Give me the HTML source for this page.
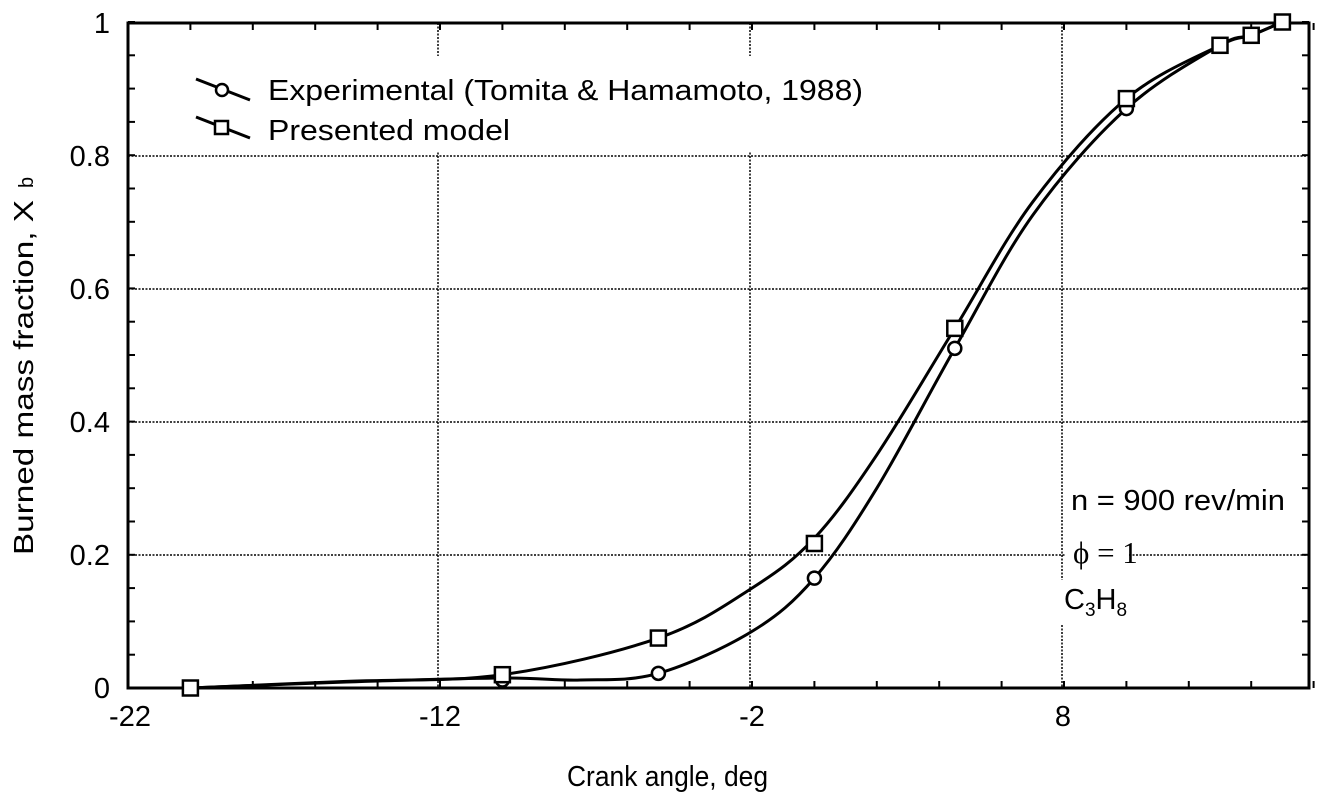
<!DOCTYPE html>
<html><head><meta charset="utf-8"><style>
html,body{margin:0;padding:0;background:#fff}
svg{display:block}
text{font-family:"Liberation Sans",Arial,sans-serif;fill:#000}
</style></head><body>
<svg id="s" width="1319" height="798" xmlns="http://www.w3.org/2000/svg">
<g stroke="#000" stroke-width="1.5" stroke-dasharray="2,1.5" fill="none">
<line x1="438" y1="23" x2="438" y2="688"/>
<line x1="750" y1="23" x2="750" y2="688"/>
<line x1="1062" y1="23" x2="1062" y2="688"/>
<line x1="128" y1="156" x2="1310" y2="156"/>
<line x1="128" y1="289" x2="1310" y2="289"/>
<line x1="128" y1="422" x2="1310" y2="422"/>
<line x1="128" y1="555" x2="1310" y2="555"/>
</g>
<rect x="186" y="56" width="700" height="95" fill="#fff"/>
<rect x="1064" y="474" width="240" height="46" fill="#fff"/>
<rect x="1066" y="535" width="62" height="36" fill="#fff"/>
<rect x="1058" y="580" width="90" height="45" fill="#fff"/>
<rect x="128" y="23" width="1181" height="665" fill="none" stroke="#000" stroke-width="3"/>
<g id="ticks" stroke="#000" stroke-width="2"></g>
<g id="curves" fill="none" stroke="#000" stroke-width="3"></g>
<g id="marks" fill="#fff" stroke="#000" stroke-width="2.5"></g>
<g font-size="29" text-anchor="middle">
<text x="130" y="726">-22</text><text x="440" y="726">-12</text><text x="752" y="726">-2</text><text x="1063" y="726">8</text>
</g>
<g font-size="29" text-anchor="end">
<text x="110" y="698">0</text><text x="110" y="565">0.2</text><text x="110" y="432">0.4</text><text x="110" y="299">0.6</text><text x="110" y="166">0.8</text><text x="110" y="33">1</text>
</g>
<text x="567" y="786" font-size="29" textLength="201" lengthAdjust="spacingAndGlyphs">Crank angle, deg</text>
<text transform="translate(33,555) rotate(-90)" font-size="28"><tspan textLength="355" lengthAdjust="spacingAndGlyphs">Burned mass fraction, X</tspan><tspan font-size="20" dx="12">b</tspan></text>
<g stroke="#000" stroke-width="3" fill="#fff">
<line x1="196" y1="79" x2="250" y2="100"/><circle cx="222" cy="90" r="6" stroke-width="2.5"/>
<line x1="196" y1="117" x2="250" y2="138"/><rect x="215" y="121" width="13" height="13" stroke-width="2.5"/>
</g>
<text x="268" y="100" font-size="29" textLength="595" lengthAdjust="spacingAndGlyphs">Experimental (Tomita &amp; Hamamoto, 1988)</text>
<text x="268" y="140" font-size="29" textLength="242" lengthAdjust="spacingAndGlyphs">Presented model</text>
<text x="1071" y="510" font-size="29" textLength="214" lengthAdjust="spacingAndGlyphs">n = 900 rev/min</text>
<text x="1073" y="563" font-size="31" style="font-family:'Liberation Serif',serif">ϕ = 1</text>
<text x="1064" y="609" font-size="29">C<tspan font-size="19" dy="7">3</tspan><tspan dy="-7">H</tspan><tspan font-size="19" dy="7">8</tspan></text>
</svg>
<script>
var X=function(d){return 128+(d+22)*31.2},Y=function(v){return 688-v*666};
var ns="http://www.w3.org/2000/svg";
function el(p,t,a){var e=document.createElementNS(ns,t);for(var k in a)e.setAttribute(k,a[k]);document.getElementById(p).appendChild(e);return e}
for(var d=-22;d<=16;d+=2){var x=X(d);el("ticks","line",{x1:x,y1:688,x2:x,y2:681});el("ticks","line",{x1:x,y1:23,x2:x,y2:30});}
for(var v=0;v<=1.0001;v+=0.05){var y=Y(v);el("ticks","line",{x1:128,y1:y,x2:135,y2:y});el("ticks","line",{x1:1309,y1:y,x2:1302,y2:y});}
var sq=[[-20,0],[-10,0.02],[-5,0.075],[0,0.217],[4.5,0.54],[10,0.885],[13,0.965],[14,0.98],[15,1.0]];
var ci=[[-20,0],[-10,0.012],[-5,0.022],[0,0.165],[4.5,0.51],[10,0.87],[13,0.965],[14,0.98],[15,1.0]];
var sqc=[[-20,0],[-15,0.01],[-10,0.02],[-5,0.075],[-2,0.15],[0,0.225],[2,0.35],[4.5,0.54],[7,0.73],[10,0.885],[13,0.965],[14,0.98],[15,1.0]];
var cic=[[-20,0],[-15,0.009],[-10,0.015],[-7.5,0.012],[-5,0.022],[-2,0.085],[0,0.165],[2,0.30],[4.5,0.51],[7,0.71],[10,0.87],[13,0.965],[14,0.98],[15,1.0]];
function path(pts){var p=pts.map(function(q){return [X(q[0]),Y(q[1])]});var s="M"+p[0][0]+","+p[0][1];
for(var i=0;i<p.length-1;i++){var p0=p[i-1]||p[i],p1=p[i],p2=p[i+1],p3=p[i+2]||p2;
s+=" C"+(p1[0]+(p2[0]-p0[0])/6)+","+(p1[1]+(p2[1]-p0[1])/6)+" "+(p2[0]-(p3[0]-p1[0])/6)+","+(p2[1]-(p3[1]-p1[1])/6)+" "+p2[0]+","+p2[1];}return s}
el("curves","path",{d:path(sqc)});el("curves","path",{d:path(cic)});
ci.forEach(function(q){el("marks","circle",{cx:X(q[0]),cy:Y(q[1]),r:6.5})});
sq.forEach(function(q){el("marks","rect",{x:X(q[0])-7.5,y:Y(q[1])-7.5,width:15,height:15})});
</script>
</body></html>
